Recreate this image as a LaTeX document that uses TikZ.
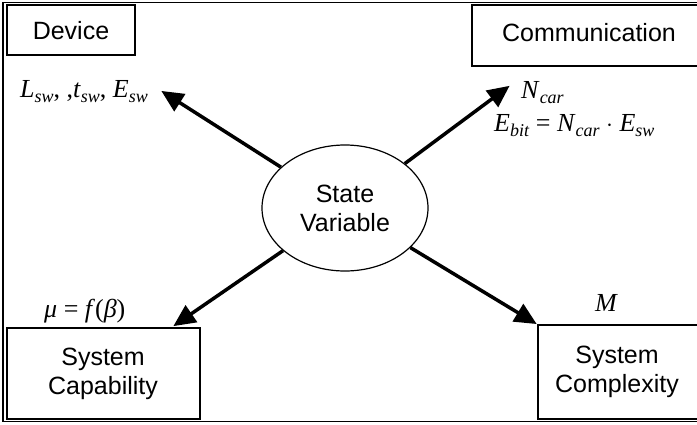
\documentclass[tikz,border=0pt]{standalone}
\usepackage{fontspec}
\setmainfont{Liberation Serif}
\newfontfamily\arialfont{Liberation Sans}
\usetikzlibrary{arrows.meta,shapes.geometric}
\newcommand\vsub[2]{\textit{#1}\raisebox{-0.45ex}{\fontsize{18}{18}\selectfont\textit{#2}}}
\tikzset{
  boxlbl/.style={font=\arialfont\fontsize{25}{29}\selectfont, align=center},
  mathlbl/.style={font=\fontsize{26}{30}\selectfont, inner sep=0pt, anchor=base west},
  boxline/.style={line width=2pt},
  arr/.style={line width=3.5pt, -{Triangle[length=22pt,width=20pt]}, shorten >=-2pt}
}
\begin{document}
\begin{tikzpicture}[x=1pt,y=-1pt]
\useasboundingbox (0,0) rectangle (697,424);
\clip (0,0) rectangle (697,424);
\fill[white] (0,0) rectangle (697,424);
% outer frame
\draw[line width=1.3pt] (3,2.5) rectangle (710,421.5);
% boxes
\draw[boxline] (7,5) rectangle (135,55);
\node[boxlbl] (dev) at (71,31) {Device};
\draw[boxline] (472,5) rectangle (710,66);
\node[boxlbl] (com) at (589,33) {Communication};
\draw[boxline] (7,328) rectangle (200,419);
\node[boxlbl] (cap) at (103,374) {System\\Capability};
\draw[boxline] (538,325) rectangle (710,419);
\node[boxlbl] (cpx) at (617,372) {System\\Complexity};
% central ellipse
\node[ellipse, draw, line width=1.2pt, minimum width=166pt, minimum height=126pt, boxlbl, inner sep=0pt] (sv) at (345,208) {State\\Variable};
% arrow tips
\coordinate (tul) at (163,92);
\coordinate (tur) at (508,87);
\coordinate (tll) at (175,325);
\coordinate (tlr) at (535,323);
\draw[arr] (sv) -- (tul);
\draw[arr] (sv) -- (tur);
\draw[arr] (sv) -- (tll);
\draw[arr] (sv) -- (tlr);
% labels
\node[mathlbl] (lsw) at (20,97) {\vsub{L}{sw}, ,\vsub{t}{sw}, \vsub{E}{sw}};
\node[mathlbl] (ncar) at (521,98) {\vsub{N}{car}};
\node[mathlbl] (ebit) at (494,131) {\vsub{E}{bit} = \vsub{N}{car} $\cdot$ \vsub{E}{sw}};
\node[mathlbl] (mu) at (44,317) {\textit{μ} = \textit{f}(\textit{β})};
\node[mathlbl] (m) at (595,311) {\textit{M}};
\end{tikzpicture}
\end{document}
